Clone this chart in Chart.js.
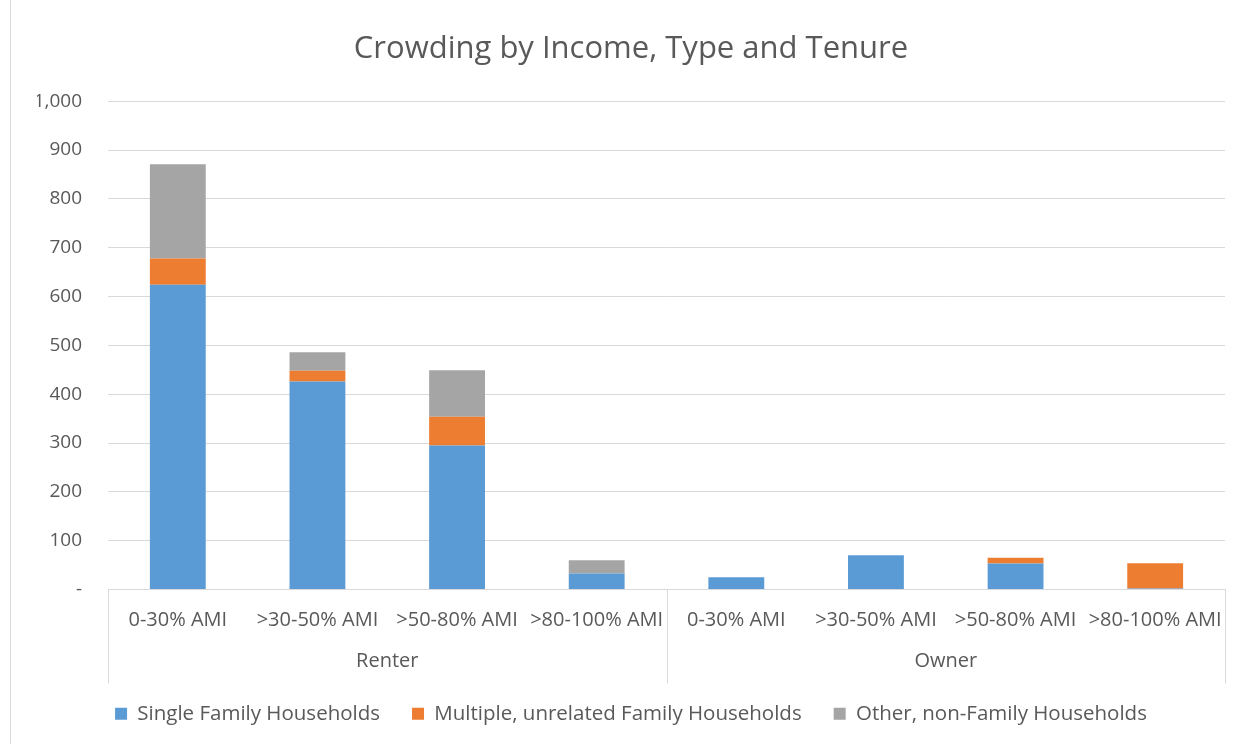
<!DOCTYPE html>
<html>
<head>
<meta charset="utf-8">
<script src="https://cdn.jsdelivr.net/npm/chart.js@4.4.1/dist/chart.umd.min.js"></script>
<style>
  html, body { margin: 0; padding: 0; background: #fff; }
  #wrap { position: relative; width: 1246px; height: 744px; }
  #edge { position: absolute; left: 10px; top: 0; width: 1px; height: 744px; background: #d9d9d9; }
</style>
</head>
<body>
<div id="wrap">
  <canvas id="crowdingChart" width="1246" height="744"></canvas>
  <div id="edge"></div>
</div>
<script>
const incomeBands = [
  "0-30% AMI", ">30-50% AMI", ">50-80% AMI", ">80-100% AMI",
  "0-30% AMI", ">30-50% AMI", ">50-80% AMI", ">80-100% AMI",
];
const tenures = ["Renter", "Owner"];
const singleFamily = [624, 426, 295, 33, 25, 70, 53, 2];
const multipleFamily = [54, 22, 59, 0, 0, 0, 12, 52];
const nonFamily = [193, 38, 95, 27, 0, 0, 0, 0];

const grey = "#595959";
const lineGrey = "#d9d9d9";
const font = "'Open Sans', sans-serif";

// vertical separators between the tenure groups, under the axis
const groupLines = {
  id: "groupLines",
  afterDraw(chart) {
    const x = chart.scales.x;
    const x2 = chart.scales.x2;
    const half = x.getPixelForValue(3) + (x.getPixelForValue(4) - x.getPixelForValue(3)) / 2;
    const c = chart.ctx;
    c.save();
    c.strokeStyle = lineGrey;
    c.lineWidth = 1;
    c.beginPath();
    for (const px of [x.left, half, x.right]) {
      const p = Math.round(px) + 0.5;
      c.moveTo(p, x.top);
      c.lineTo(p, x2.bottom + 12);
    }
    c.stroke();
    c.restore();
  },
};

const ctx = document.getElementById("crowdingChart").getContext("2d");
const chart = new Chart(ctx, {
  type: "bar",
  data: {
    labels: incomeBands,
    datasets: [
      { label: "Single Family Households", data: singleFamily, backgroundColor: "#5b9bd5" },
      { label: "Multiple, unrelated Family Households", data: multipleFamily, backgroundColor: "#ed7d31" },
      { label: "Other, non-Family Households", data: nonFamily, backgroundColor: "#a5a5a5" },
    ],
  },
  options: {
    responsive: false,
    animation: false,
    layout: { padding: { left: 37, right: 21, top: 0, bottom: 10 } },
    datasets: { bar: { categoryPercentage: 1, barPercentage: 0.4 } },
    plugins: {
      title: {
        display: true,
        text: "Crowding by Income, Type and Tenure",
        color: grey,
        font: { family: font, size: 31, weight: "normal" },
        padding: { top: 31, bottom: 33 },
      },
      legend: {
        position: "bottom",
        labels: {
          color: grey,
          font: { family: font, size: 20.5 },
          boxWidth: 12,
          boxHeight: 12,
          padding: 32,
        },
      },
      tooltip: { enabled: false },
    },
    scales: {
      x: {
        stacked: true,
        weight: 0,
        grid: { display: false },
        border: { display: true, color: lineGrey },
        ticks: {
          color: grey,
          font: { family: font, size: 20 },
          maxRotation: 0,
          autoSkip: false,
          padding: 11,
        },
      },
      x2: {
        type: "category",
        labels: tenures,
        position: "bottom",
        weight: 1,
        grid: { display: false },
        border: { display: false },
        ticks: { color: grey, font: { family: font, size: 20 }, padding: -2 },
      },
      y: {
        stacked: true,
        min: 0,
        max: 1000,
        afterFit: (s) => { s.width = 71; },
        grid: { color: lineGrey, drawTicks: false },
        border: { display: false },
        ticks: {
          stepSize: 100,
          color: grey,
          font: { family: font, size: 19 },
          padding: 26,
          callback: (v) => (v === 0 ? "-" : v.toLocaleString("en-US")),
        },
      },
    },
  },
  plugins: [groupLines],
});
</script>
</body>
</html>
